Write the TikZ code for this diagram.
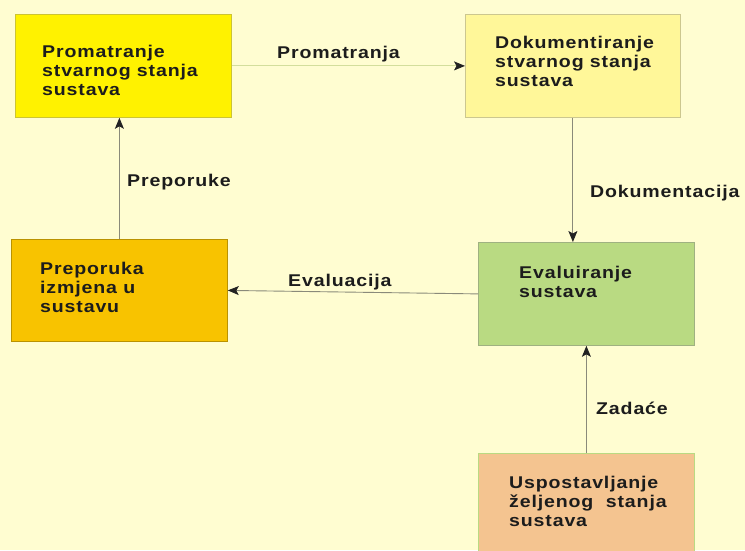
\documentclass[tikz,border=0pt]{standalone}
\usepackage{fontspec}
\newfontfamily\boxfont[FakeStretch=1.15,LetterSpace=5]{Liberation Sans Bold}
\usetikzlibrary{arrows.meta}
\definecolor{bgc}{HTML}{FFFDD1}
\definecolor{cA}{HTML}{FFF200}
\definecolor{cB}{HTML}{FFF799}
\definecolor{cC}{HTML}{F8C300}
\definecolor{cD}{HTML}{B9DA82}
\definecolor{cE}{HTML}{F4C490}
\definecolor{txt}{HTML}{1C1C1C}
\definecolor{lnA}{HTML}{D3DE9C}
\definecolor{lnB}{HTML}{8A8A7A}
\definecolor{tipc}{HTML}{222222}
\tikzset{
  box/.style={draw=#1, line width=0.8pt, anchor=north west, inner sep=0pt},
  boxtext/.style={font=\boxfont\fontsize{17}{19}\selectfont, text=txt, align=left, anchor=base west, inner sep=0pt},
  lbl/.style={font=\boxfont\fontsize{17}{19}\selectfont, text=txt, anchor=base west, inner sep=0pt},
  conn/.style={draw=#1, line width=0.9pt, -{Stealth[length=11pt,width=9pt,inset=2.5pt,color=tipc]}}
}
\begin{document}
\begin{tikzpicture}[x=1pt,y=-1pt]
\fill[bgc] (0,0) rectangle (745,550);
\useasboundingbox (0,0) rectangle (745,550);
\clip (0,0) rectangle (745,550);
% boxes
\node[box=cA!60!gray, fill=cA, minimum width=216pt, minimum height=103pt] (b1) at (15,14) {};
\node[box=cB!60!gray, fill=cB, minimum width=215pt, minimum height=103pt] (b2) at (465,14) {};
\node[box=cC!75!black, fill=cC, minimum width=216pt, minimum height=102pt] (b3) at (11,239) {};
\node[box=cD!55!gray, fill=cD, minimum width=216pt, minimum height=103pt] (b4) at (478,242) {};
\node[box=cD, fill=cE, minimum width=216pt, minimum height=103pt] (b5) at (478,453) {};
% box texts (anchored at the baseline of the last line)
\node[boxtext] (t1) at (42,95) {Promatranje\\stvarnog stanja\\sustava};
\node[boxtext] (t2) at (495,86) {Dokumentiranje\\stvarnog stanja\\sustava};
\node[boxtext] (t3) at (40,312) {Preporuka\\izmjena u\\sustavu};
\node[boxtext] (t4) at (519,297) {Evaluiranje\\sustava};
\node[boxtext] (t5) at (509,526) {Uspostavljanje\\željenog\ \ stanja\\sustava};
% connectors
\draw[conn=lnA] (b1.east) -- (b2.west);
\draw[conn=lnB] (b2.south) -- (b2.south |- b4.north);
\draw[conn=lnB] (b4.west) -- (b3.east);
\draw[conn=lnB] (b3.north) -- (b3.north |- b1.south);
\draw[conn=lnB] (b5.north) -- (b4.south);
% labels
\node[lbl] (l1) at (277,58) {Promatranja};
\node[lbl] (l2) at (590,197) {Dokumentacija};
\node[lbl] (l3) at (288,286) {Evaluacija};
\node[lbl] (l4) at (127,186) {Preporuke};
\node[lbl] (l5) at (596,414) {Zadaće};
\end{tikzpicture}
\end{document}
